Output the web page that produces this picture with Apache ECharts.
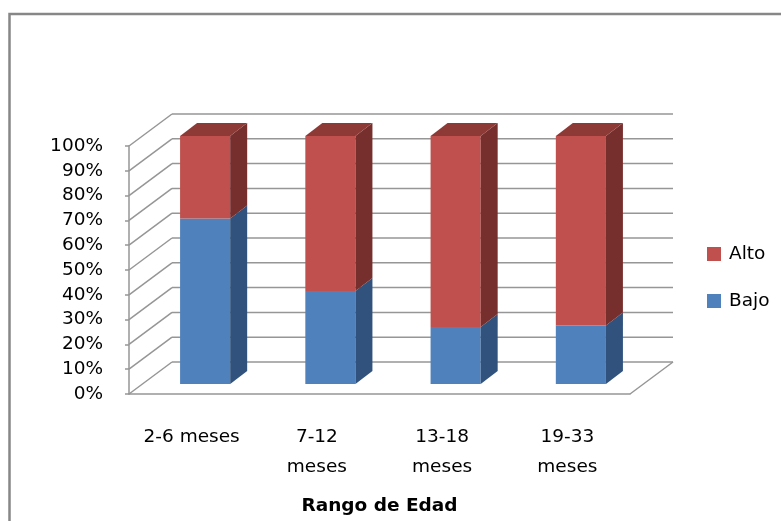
<!DOCTYPE html>
<html>
<head>
<meta charset="utf-8">
<script src="https://cdn.jsdelivr.net/npm/echarts@6/dist/echarts.min.js"></script>
<style>
  html, body { margin: 0; padding: 0; background: #ffffff; }
  #chart { width: 781px; height: 521px; }
</style>
</head>
<body>
<div id="chart"></div>
<script>
// Age ranges on the category axis
const categories = ['2-6 meses', '7-12\nmeses', '13-18\nmeses', '19-33\nmeses'];
// Share of each level per age range (percent, stacks to 100)
const bajo = [66.7, 37.5, 23.0, 23.6];
const alto = [33.3, 62.5, 77.0, 76.4];
// Value axis ticks
const yTicks = [0, 10, 20, 30, 40, 50, 60, 70, 80, 90, 100];

const FONT = 'DejaVu Sans';
const FONT_SIZE = 18.5;
const GRID_COLOR = '#969696';

// Pseudo-3D depth: offset of the back wall and of the bar faces
const WALL_DX = 43, WALL_DY = -32;
const FACE_DX = 13.5, FACE_DY = -10;
const SIDE_DX = 17, SIDE_DY = -13;

const colors = {
  Bajo: { front: '#4f81bd', side: '#30527c', top: '#3d6597' },
  Alto: { front: '#c0504d', side: '#772f2d', top: '#8d3a37' }
};

// Back wall gridlines and the diagonals linking them to the value axis
function renderWall(params, api) {
  const cs = params.coordSys;
  const v = api.value(1);
  const y = api.coord([0, v])[1];
  const x0 = cs.x, x1 = cs.x + cs.width;
  const lineStyle = { stroke: GRID_COLOR, lineWidth: 1.5, fill: null };
  const children = [
    { type: 'line', shape: { x1: x0, y1: y, x2: x0 + WALL_DX, y2: y + WALL_DY }, style: lineStyle },
    { type: 'line', shape: { x1: x0 + WALL_DX, y1: y + WALL_DY, x2: x1 + WALL_DX, y2: y + WALL_DY }, style: lineStyle }
  ];
  if (v === 0) {
    children.push({ type: 'line', shape: { x1: x1, y1: y, x2: x1 + WALL_DX, y2: y + WALL_DY }, style: lineStyle });
  }
  return { type: 'group', children };
}

// One stacked segment drawn as a box: front, side and (optionally) top face
function boxRenderer(name, withTop) {
  const c = colors[name];
  return function (params, api) {
    const i = api.value(0), lo = api.value(1), hi = api.value(2);
    const pLo = api.coord([i, lo]);
    const pHi = api.coord([i, hi]);
    const w = api.size([1, 0])[0] * 0.4;
    const xl = pLo[0] - w / 2 + FACE_DX, xr = xl + w;
    const yb = pLo[1] + FACE_DY, yt = pHi[1] + FACE_DY;
    const children = [
      { type: 'rect', shape: { x: xl, y: yt, width: w, height: yb - yt }, style: { fill: c.front } },
      { type: 'polygon', shape: { points: [[xr, yb], [xr + SIDE_DX, yb + SIDE_DY], [xr + SIDE_DX, yt + SIDE_DY], [xr, yt]] }, style: { fill: c.side } }
    ];
    if (withTop) {
      children.push({ type: 'polygon', shape: { points: [[xl, yt], [xr, yt], [xr + SIDE_DX, yt + SIDE_DY], [xl + SIDE_DX, yt + SIDE_DY]] }, style: { fill: c.top } });
    }
    return { type: 'group', children };
  };
}

const bajoData = bajo.map((v, i) => [i, 0, v]);
const altoData = alto.map((v, i) => [i, bajo[i], bajo[i] + v]);

const chart = echarts.init(document.getElementById('chart'), null, { renderer: 'canvas' });
chart.setOption({
  backgroundColor: '#ffffff',
  animation: false,
  graphic: [{
    type: 'rect',
    shape: { x: 9.5, y: 14, width: 820, height: 560 },
    style: { fill: null, stroke: '#878787', lineWidth: 2.5 },
    silent: true
  }],
  legend: {
    orient: 'vertical',
    left: 702,
    top: 239,
    itemWidth: 14,
    itemHeight: 14,
    itemGap: 27,
    icon: 'rect',
    data: ['Alto', 'Bajo'],
    textStyle: { fontFamily: FONT, fontSize: FONT_SIZE, color: '#000', lineHeight: 20, padding: [0, 0, 0, 3] }
  },
  grid: { left: 129, top: 146, width: 501, height: 248, containLabel: false },
  xAxis: {
    type: 'category',
    data: categories,
    name: 'Rango de Edad',
    nameLocation: 'middle',
    nameGap: 103,
    nameTextStyle: { fontFamily: FONT, fontSize: FONT_SIZE, fontWeight: 'bold', color: '#000' },
    axisLine: { lineStyle: { color: GRID_COLOR, width: 1.5 } },
    axisTick: { length: 7, lineStyle: { color: GRID_COLOR, width: 1.5 } },
    axisLabel: { fontFamily: FONT, fontSize: FONT_SIZE, color: '#000', margin: 28, lineHeight: 30, interval: 0 },
    splitLine: { show: false }
  },
  yAxis: {
    type: 'value',
    min: 0,
    max: 100,
    interval: 10,
    axisLine: { show: true, lineStyle: { color: GRID_COLOR, width: 1.5 } },
    axisTick: { show: true, length: 4, lineStyle: { color: GRID_COLOR, width: 1.5 } },
    axisLabel: { fontFamily: FONT, fontSize: FONT_SIZE, color: '#000', margin: 26, padding: [5, 0, 0, 0], formatter: '{value}%' },
    splitLine: { show: false }
  },
  series: [
    {
      type: 'custom',
      name: 'wall',
      silent: true,
      clip: false,
      z: 1,
      renderItem: renderWall,
      encode: { x: 0, y: 1 },
      data: yTicks.map(v => [0, v])
    },
    {
      type: 'custom',
      name: 'Bajo',
      clip: false,
      z: 3,
      itemStyle: { color: colors.Bajo.front },
      renderItem: boxRenderer('Bajo', false),
      encode: { x: 0, y: [1, 2] },
      data: bajoData
    },
    {
      type: 'custom',
      name: 'Alto',
      clip: false,
      z: 3,
      itemStyle: { color: colors.Alto.front },
      renderItem: boxRenderer('Alto', true),
      encode: { x: 0, y: [1, 2] },
      data: altoData
    }
  ]
});
</script>
</body>
</html>
